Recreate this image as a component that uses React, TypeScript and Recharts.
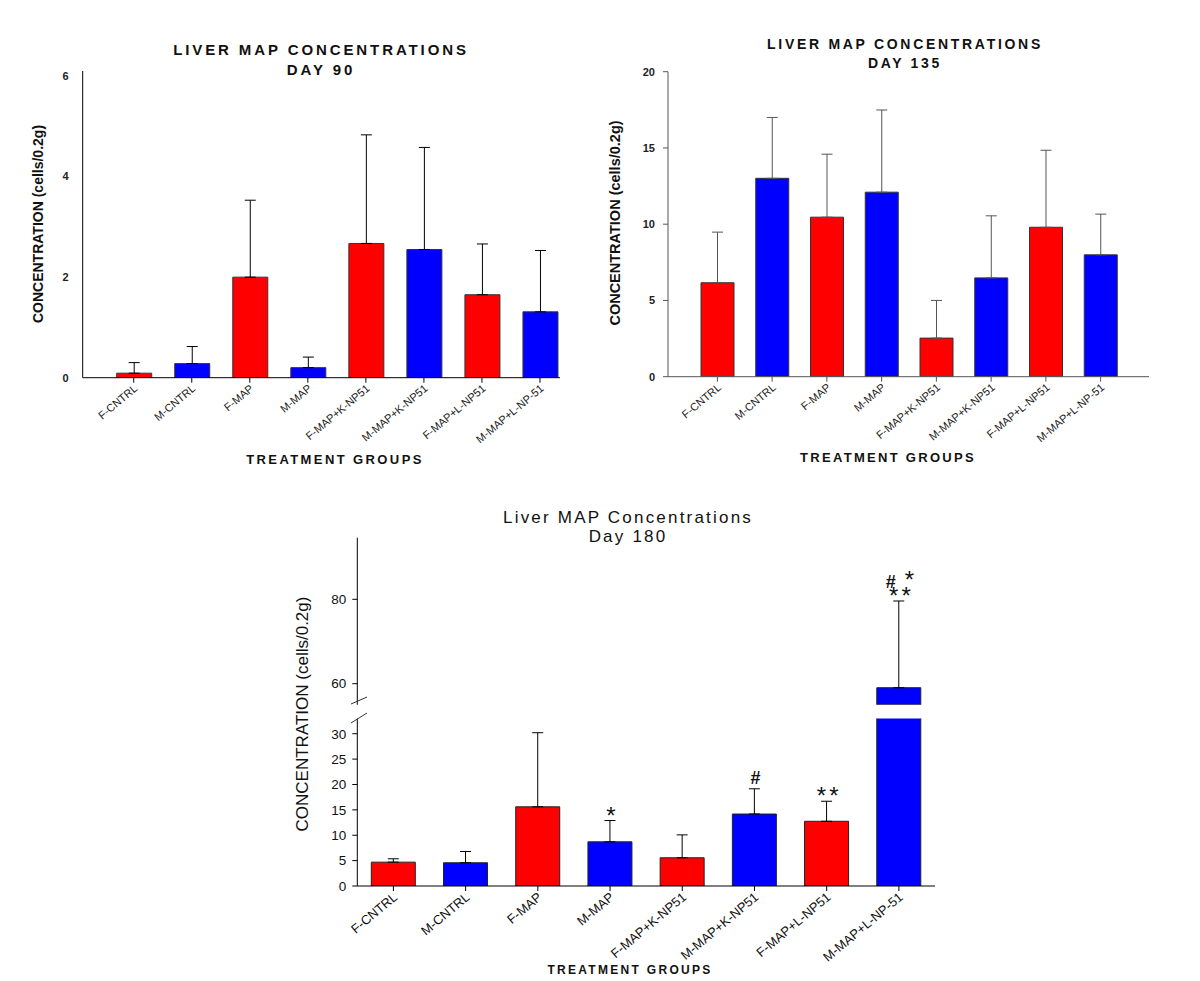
import React from "react";
import { ComposedChart, Bar, XAxis, YAxis, ErrorBar, Cell, Scatter } from "recharts";

const FONT = '"Liberation Sans", Arial, sans-serif';
const RED = "#ff0000";
const BLUE = "#0000ff";

const groups = [
  "F-CNTRL",
  "M-CNTRL",
  "F-MAP",
  "M-MAP",
  "F-MAP+K-NP51",
  "M-MAP+K-NP51",
  "F-MAP+L-NP51",
  "M-MAP+L-NP-51",
];

// day 90
const day90Means = [0.09, 0.28, 2.0, 0.2, 2.67, 2.55, 1.65, 1.31];
const day90Errors = [0.21, 0.34, 1.53, 0.21, 2.16, 2.03, 1.01, 1.22];
const day90Ticks = [0, 2, 4, 6];
const day90Domain = [0, 6.1];

// day 135
const day135Means = [6.16, 13.01, 10.46, 12.1, 2.53, 6.48, 9.8, 7.99];
const day135Errors = [3.32, 3.99, 4.13, 5.39, 2.47, 4.07, 5.05, 2.67];
const day135Ticks = [0, 5, 10, 15, 20];
const day135Domain = [0, 20];

// day 180 (broken axis)
const day180Means = [4.7, 4.58, 15.6, 8.7, 5.56, 14.18, 12.75, 59.05];
const day180Errors = [0.66, 2.22, 14.6, 4.2, 4.51, 4.97, 3.95, 20.55];
const day180Marks = ["", "", "", "*", "", "#", "**", "# *|**"];
const day180LowTicks = [0, 5, 10, 15, 20, 25, 30];
const day180HighTicks = [60, 80];
const day180LowDomain = [0, 33];
const day180HighDomain = [55, 94.6];

const rows90 = groups.map((g, i) => ({ group: g, mean: day90Means[i], err: [0, day90Errors[i]] }));
const rows135 = groups.map((g, i) => ({ group: g, mean: day135Means[i], err: [0, day135Errors[i]] }));

const isBroken = (v: number) => v > day180LowDomain[1];

const rows180Low = groups.map((g, i) => {
  const broken = isBroken(day180Means[i]);
  return {
    group: g,
    mean: day180Means[i],
    err: broken ? [0, 0] : [0, day180Errors[i]],
    mark: broken ? "" : day180Marks[i],
    markY: broken ? null : day180Means[i] + day180Errors[i],
  };
});

const rows180High = groups.map((g, i) => {
  const broken = isBroken(day180Means[i]);
  return {
    group: g,
    mean: broken ? day180Means[i] : null,
    err: broken ? [0, day180Errors[i]] : [0, 0],
    mark: broken ? day180Marks[i] : "",
    markY: broken ? day180Means[i] + day180Errors[i] : null,
  };
});

const colorFor = (g: string) => (g.startsWith("F") ? RED : BLUE);

const makeTick = (fontSize: number, fill: string) => (props: any) => {
  const { x, y, payload } = props;
  return (
    <text
      x={x + 2}
      y={y + 2}
      dy={fontSize * 0.35}
      textAnchor="end"
      fontSize={fontSize}
      fontFamily={FONT}
      fill={fill}
      transform={`rotate(-40 ${x + 2} ${y + 2})`}
    >
      {payload.value}
    </text>
  );
};

// significance marks: '#' bold, '*' larger; lines separated by '|', drawn bottom-up
const renderMark = (props: any) => {
  const { cx, cy, payload } = props;
  if (!payload || !payload.mark || cy == null || isNaN(cy)) return <g />;
  const lines = String(payload.mark).split("|").reverse();
  const base = cy + (lines[0].includes("#") ? -5 : 3);
  const spans: any[] = [];
  lines.forEach((ln, k) => {
    let first = true;
    let gap = 0;
    ln.split("").forEach((ch, j) => {
      if (ch === " ") {
        gap = 9;
        return;
      }
      spans.push(
        <tspan
          key={`${k}-${j}`}
          x={first ? cx + 1 : undefined}
          y={first ? base - k * 16 : undefined}
          dx={first ? 0 : gap || 3}
          fontSize={ch === "#" ? 18 : 24}
          fontWeight={ch === "#" ? "bold" : "normal"}
        >
          {ch}
        </tspan>
      );
      first = false;
      gap = 0;
    });
  });
  return (
    <text textAnchor="middle" fontFamily={FONT} fill="#111">
      {spans}
    </text>
  );
};

const Txt = ({ x, y, size, bold, spacing, children, rotate }: any) => (
  <div
    style={{
      position: "absolute",
      left: x,
      top: y,
      transform: `translate(-50%, -50%)${rotate ? " rotate(-90deg)" : ""}`,
      fontFamily: FONT,
      fontSize: size,
      fontWeight: bold ? "bold" : "normal",
      letterSpacing: spacing || 0,
      whiteSpace: "nowrap",
      lineHeight: 1,
      color: "#111",
    }}
  >
    {children}
  </div>
);

const ChartTop = ({ rows, ticks, domain, left, margin, padding, barSize, axisColor, errColor }: any) => (
  <div style={{ position: "absolute", left, top: 0 }}>
    <ComposedChart width={600} height={480} data={rows} margin={margin}>
      <XAxis
        dataKey="group"
        height={80}
        interval={0}
        padding={padding}
        stroke={axisColor}
        tickSize={5}
        tick={makeTick(11, "#222")}
      />
      <YAxis
        width={40}
        domain={domain}
        ticks={ticks}
        allowDataOverflow
        stroke={axisColor}
        tickSize={axisColor === "#000" ? 0 : 5}
        tickMargin={axisColor === "#000" ? 14 : 8}
        tick={{ fontSize: 11, fontWeight: "bold", fill: "#222", fontFamily: FONT }}
      />
      <Bar dataKey="mean" barSize={barSize} stroke="#333" strokeWidth={1} isAnimationActive={false}>
        {rows.map((r: any) => (
          <Cell key={r.group} fill={colorFor(r.group)} />
        ))}
        <ErrorBar dataKey="err" width={5.5} stroke={errColor} strokeWidth={1} direction="y" />
      </Bar>
    </ComposedChart>
  </div>
);

export default function App() {
  return (
    <div style={{ position: "absolute", left: 0, top: 0, width: 1200, height: 981, background: "#fff" }}>
      {/* Day 90 */}
      <ChartTop
        rows={rows90}
        ticks={day90Ticks}
        domain={day90Domain}
        left={0}
        margin={{ top: 71, right: 40, bottom: 22.3, left: 42.7 }}
        padding={{ left: 22, right: -9 }}
        barSize={35}
        axisColor="#000"
        errColor="#000"
      />
      <Txt x={321} y={49} size={15} bold spacing={2.9}>LIVER MAP CONCENTRATIONS</Txt>
      <Txt x={321} y={69} size={15} bold spacing={2.9}>DAY 90</Txt>
      <Txt x={38} y={224} size={14} bold rotate>CONCENTRATION (cells/0.2g)</Txt>
      <Txt x={335} y={459} size={13} bold spacing={2.4}>TREATMENT GROUPS</Txt>

      {/* Day 135 */}
      <ChartTop
        rows={rows135}
        ticks={day135Ticks}
        domain={day135Domain}
        left={600}
        margin={{ top: 71.7, right: 51, bottom: 23.3, left: 28 }}
        padding={{ left: 22, right: 21 }}
        barSize={33}
        axisColor="#555"
        errColor="#555"
      />
      <Txt x={905} y={44} size={14} bold spacing={2.7}>LIVER MAP CONCENTRATIONS</Txt>
      <Txt x={905} y={63} size={14} bold spacing={2.7}>DAY 135</Txt>
      <Txt x={615} y={223} size={14.5} bold rotate>CONCENTRATION (cells/0.2g)</Txt>
      <Txt x={888} y={457} size={13} bold spacing={2.3}>TREATMENT GROUPS</Txt>

      {/* Day 180 upper segment */}
      <div style={{ position: "absolute", left: 280, top: 500 }}>
        <ComposedChart width={700} height={220} data={rows180High} margin={{ top: 37.7, right: 45, bottom: 15.2, left: 27.3 }}>
          <XAxis dataKey="group" hide padding={{ left: 0, right: 0 }} />
          <YAxis
            width={50}
            domain={day180HighDomain}
            ticks={day180HighTicks}
            allowDataOverflow
            stroke="#000"
            tickSize={5}
            tickMargin={6}
            tick={{ fontSize: 13.5, fill: "#111", fontFamily: FONT }}
          />
          <Bar dataKey="mean" barSize={44} stroke="#222" strokeWidth={1} isAnimationActive={false}>
            {rows180High.map((r) => (
              <Cell key={r.group} fill={colorFor(r.group)} />
            ))}
            <ErrorBar dataKey="err" width={5.5} stroke="#000" strokeWidth={1} direction="y" />
          </Bar>
          <Scatter dataKey="markY" shape={renderMark} isAnimationActive={false} />
        </ComposedChart>
      </div>

      {/* Day 180 lower segment */}
      <div style={{ position: "absolute", left: 280, top: 700 }}>
        <ComposedChart width={700} height={281} data={rows180Low} margin={{ top: 18.5, right: 45, bottom: 10, left: 27.3 }}>
          <XAxis
            dataKey="group"
            height={85}
            interval={0}
            padding={{ left: 0, right: 0 }}
            stroke="#000"
            tickSize={5}
            tick={makeTick(13, "#111")}
          />
          <YAxis
            width={50}
            domain={day180LowDomain}
            ticks={day180LowTicks}
            allowDataOverflow
            stroke="#000"
            tickSize={5}
            tickMargin={6}
            tick={{ fontSize: 13.5, fill: "#111", fontFamily: FONT }}
          />
          <Bar dataKey="mean" barSize={44} stroke="#222" strokeWidth={1} isAnimationActive={false}>
            {rows180Low.map((r) => (
              <Cell key={r.group} fill={colorFor(r.group)} />
            ))}
            <ErrorBar dataKey="err" width={5.5} stroke="#000" strokeWidth={1} direction="y" />
          </Bar>
          <Scatter dataKey="markY" shape={renderMark} isAnimationActive={false} />
        </ComposedChart>
      </div>

      {/* axis break marks */}
      <svg style={{ position: "absolute", left: 340, top: 690 }} width={40} height={45}>
        <line x1={11} y1={14} x2={27} y2={7} stroke="#333" strokeWidth={1} />
        <line x1={11} y1={33} x2={27} y2={23} stroke="#333" strokeWidth={1} />
      </svg>

      <Txt x={628} y={517} size={17} spacing={2.2}>Liver MAP Concentrations</Txt>
      <Txt x={628} y={536} size={17} spacing={2.2}>Day 180</Txt>
      <Txt x={302} y={714} size={17} rotate>CONCENTRATION (cells/0.2g)</Txt>
      <Txt x={630} y={970} size={12} bold spacing={2.3}>TREATMENT GROUPS</Txt>
    </div>
  );
}
